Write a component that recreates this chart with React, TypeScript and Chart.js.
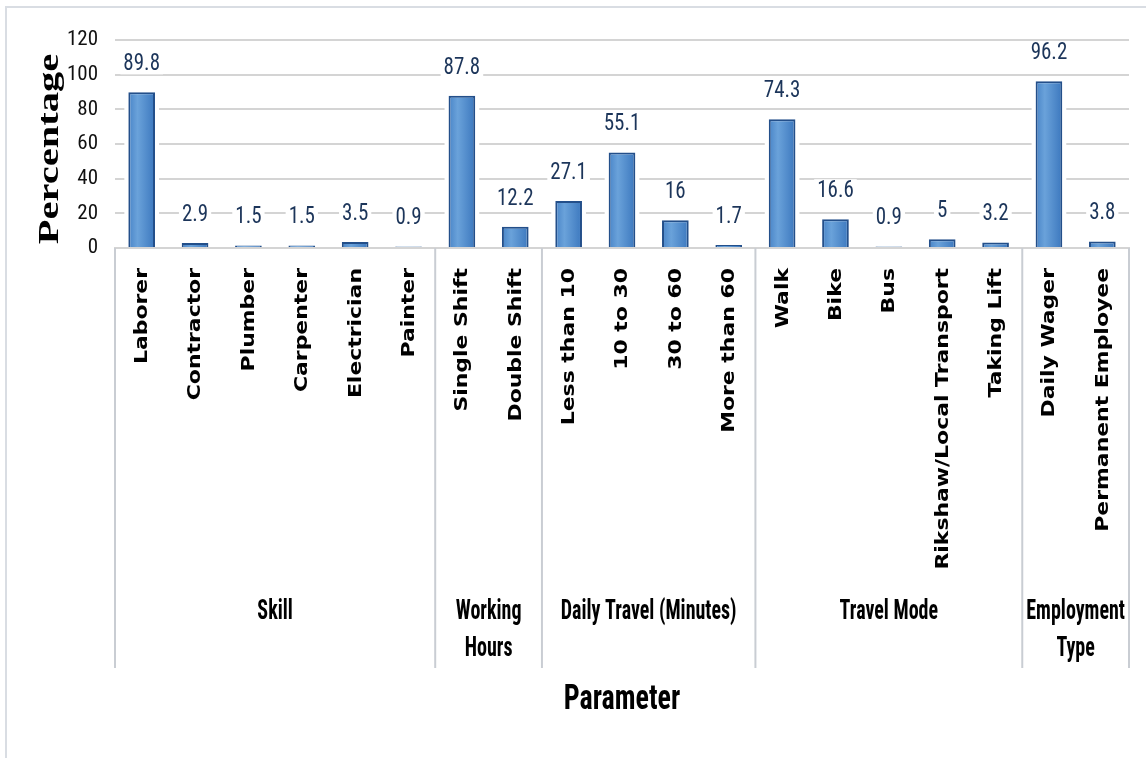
import { useEffect, useRef } from "react";
import { Chart, registerables } from "chart.js";

Chart.register(...registerables);

const categories = [
  "Laborer", "Contractor", "Plumber", "Carpenter", "Electrician", "Painter",
  "Single Shift", "Double Shift",
  "Less than 10", "10 to 30", "30 to 60", "More than 60",
  "Walk", "Bike", "Bus", "Rikshaw/Local Transport", "Taking Lift",
  "Daily Wager", "Permanent Employee",
];
const values = [89.8, 2.9, 1.5, 1.5, 3.5, 0.9, 87.8, 12.2, 27.1, 55.1, 16, 1.7, 74.3, 16.6, 0.9, 5, 3.2, 96.2, 3.8];
const groupLabels = [["Skill"], ["Working", "Hours"], ["Daily Travel (Minutes)"], ["Travel Mode"], ["Employment", "Type"]];
const groupSizes = [6, 2, 4, 5, 2];
const yMin = 0;
const yMax = 120;
const yStep = 20;
const yTitle = "Percentage";
const xTitle = "Parameter";

const NARROW = "'Liberation Sans Narrow', 'Roboto Condensed', 'Liberation Sans', sans-serif";

const decorPlugin = {
  id: "decor",
  beforeDatasetsDraw(chart: any) {
    const ctx = chart.ctx;
    const meta = chart.getDatasetMeta(0);
    const base = chart.chartArea.bottom;
    ctx.save();
    ctx.fillStyle = "#ffffff";
    meta.data.forEach((el: any) => {
      const w = el.width;
      ctx.fillRect(el.x - w / 2 - 4, el.y - 3, w + 8, base - el.y + 2);
    });
    ctx.restore();
  },
  afterDatasetsDraw(chart: any) {
    const ctx = chart.ctx;
    const meta = chart.getDatasetMeta(0);
    ctx.save();
    ctx.font = `21px ${NARROW}`;
    ctx.textAlign = "center";
    ctx.textBaseline = "middle";
    meta.data.forEach((el: any, i: number) => {
      const txt = String(values[i]);
      const cy = el.y - 29;
      const w = ctx.measureText(txt).width;
      ctx.fillStyle = "#ffffff";
      ctx.fillRect(el.x - w / 2 - 3, cy - 11, w + 6, 22);
      ctx.save();
      ctx.translate(el.x, cy);
      ctx.scale(1, 1.12);
      ctx.fillStyle = "#1c355a";
      ctx.fillText(txt, 0, 1);
      ctx.restore();
    });
    ctx.restore();
  },
  afterDraw(chart: any) {
    const ctx = chart.ctx;
    const area = chart.chartArea;
    const xs = chart.scales.x;
    ctx.save();
    // frame
    ctx.strokeStyle = "#d9dde3";
    ctx.lineWidth = 2;
    ctx.beginPath();
    ctx.moveTo(6, 758);
    ctx.lineTo(6, 7);
    ctx.lineTo(1146, 7);
    ctx.stroke();

    // group separators
    const bounds: number[] = [area.left];
    let idx = 0;
    groupSizes.forEach((n, gi) => {
      idx += n;
      if (gi < groupSizes.length - 1) {
        bounds.push((xs.getPixelForValue(idx - 1) + xs.getPixelForValue(idx)) / 2);
      }
    });
    bounds.push(area.right);
    ctx.strokeStyle = "#c9cdd3";
    ctx.lineWidth = 2;
    bounds.forEach((bx) => {
      ctx.beginPath();
      ctx.moveTo(bx, area.bottom);
      ctx.lineTo(bx, 668);
      ctx.stroke();
    });

    // category labels
    ctx.fillStyle = "#000000";
    ctx.font = "bold 17px 'DejaVu Sans', Verdana, sans-serif";
    ctx.textAlign = "right";
    ctx.textBaseline = "middle";
    categories.forEach((c, i) => {
      const x = xs.getPixelForValue(i);
      ctx.save();
      ctx.translate(x + 1, area.bottom + 20);
      ctx.rotate(-Math.PI / 2);
      ctx.scale(1.29, 1);
      ctx.fillText(c, 0, 0);
      ctx.restore();
    });

    // group labels
    ctx.font = `bold 20px ${NARROW}`;
    ctx.textAlign = "center";
    ctx.textBaseline = "middle";
    groupLabels.forEach((lines, gi) => {
      const cx = (bounds[gi] + bounds[gi + 1]) / 2;
      lines.forEach((ln, li) => {
        ctx.save();
        ctx.translate(cx, 612 + li * 37);
        ctx.scale(1, 1.35);
        ctx.fillText(ln, 0, 0);
        ctx.restore();
      });
    });

    // x title
    ctx.font = `bold 28px ${NARROW}`;
    ctx.save();
    ctx.translate((area.left + area.right) / 2, 700);
    ctx.scale(1, 1.25);
    ctx.fillText(xTitle, 0, 0);
    ctx.restore();

    // y title
    ctx.font = "bold 30px 'Liberation Serif', 'Times New Roman', serif";
    ctx.save();
    ctx.translate(50, 149);
    ctx.rotate(-Math.PI / 2);
    ctx.scale(1.35, 1);
    ctx.fillText(yTitle, 0, 0);
    ctx.restore();

    ctx.restore();
  },
};

export default function App() {
  const ref = useRef<HTMLCanvasElement | null>(null);
  useEffect(() => {
    if (!ref.current) return;
    const chart = new Chart(ref.current, {
      type: "bar",
      data: {
        labels: categories,
        datasets: [
          {
            data: values,
            backgroundColor: (c: any) => {
              const ch = c.chart;
              const xs = ch.scales?.x;
              if (!xs || c.dataIndex === undefined) return "#5b95d3";
              const x = xs.getPixelForValue(c.dataIndex);
              if (!Number.isFinite(x)) return "#5b95d3";
              const g = ch.ctx.createLinearGradient(x - 14, 0, x + 14, 0);
              g.addColorStop(0, "#4682c6");
              g.addColorStop(0.35, "#6aa2da");
              g.addColorStop(1, "#3a76bd");
              return g;
            },
            borderColor: "#234f8a",
            borderWidth: 2,
            barPercentage: 0.5,
            categoryPercentage: 1,
          },
        ],
      },
      options: {
        animation: false,
        responsive: true,
        maintainAspectRatio: false,
        devicePixelRatio: 1,
        layout: { padding: { left: 0, top: 40, right: 17, bottom: 0 } },
        plugins: { legend: { display: false }, tooltip: { enabled: false } },
        scales: {
          x: {
            grid: { display: false },
            border: { display: true, color: "#d4d4d4", width: 2 },
            ticks: { display: false },
            afterFit: (s: any) => {
              s.height = 511;
            },
          },
          y: {
            min: yMin,
            max: yMax,
            ticks: {
              stepSize: yStep,
              padding: 17,
              color: "#111111",
              font: { family: NARROW, size: 21 },
            },
            grid: { color: "#d4d4d4", lineWidth: 2, drawTicks: false },
            border: { display: false },
            afterFit: (s: any) => {
              s.width = 115;
            },
          },
        },
      },
      plugins: [decorPlugin],
    });
    return () => chart.destroy();
  }, []);
  return (
    <div style={{ position: "absolute", left: 0, top: 0, width: 1146, height: 759, background: "#fff" }}>
      <canvas ref={ref} />
    </div>
  );
}
